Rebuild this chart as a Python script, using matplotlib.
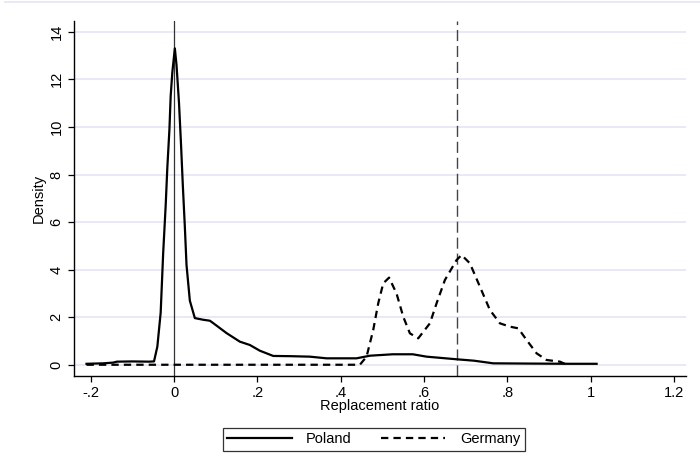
import matplotlib
matplotlib.use("Agg")
import matplotlib.pyplot as plt
from matplotlib.lines import Line2D

plt.rcParams['font.family'] = ['Liberation Sans', 'DejaVu Sans']

# Kernel density of replacement ratios, Poland
poland_x = [-0.21, -0.17, -0.146, -0.137, -0.10, -0.06, -0.048, -0.04, -0.032, -0.026,
            -0.02, -0.016, -0.011, -0.008, -0.004, 0.002, 0.006, 0.012, 0.017, 0.021,
            0.026, 0.030, 0.038, 0.05, 0.07, 0.086, 0.094, 0.11, 0.126, 0.158,
            0.182, 0.206, 0.222, 0.238, 0.28, 0.326, 0.366, 0.438, 0.47, 0.525,
            0.573, 0.606, 0.678, 0.72, 0.766, 0.85, 0.95, 1.014]
poland_y = [0.05, 0.07, 0.10, 0.14, 0.15, 0.14, 0.15, 0.77, 2.2, 4.7,
            6.7, 8.3, 9.9, 11.3, 12.3, 13.3, 12.6, 11.0, 9.2, 7.6,
            5.8, 4.2, 2.7, 1.97, 1.9, 1.86, 1.76, 1.55, 1.34, 0.98,
            0.84, 0.6, 0.49, 0.38, 0.37, 0.35, 0.28, 0.28, 0.39, 0.45,
            0.45, 0.35, 0.24, 0.18, 0.07, 0.06, 0.05, 0.05]

# Kernel density of replacement ratios, Germany
germany_x = [-0.21, 0.0, 0.3, 0.446, 0.462, 0.478, 0.49, 0.502, 0.516, 0.534,
             0.55, 0.566, 0.586, 0.614, 0.63, 0.65, 0.678, 0.69, 0.71, 0.734,
             0.758, 0.782, 0.806, 0.826, 0.846, 0.87, 0.894, 0.926, 0.94]
germany_y = [0.01, 0.01, 0.01, 0.01, 0.35, 1.47, 2.59, 3.43, 3.67, 3.0,
             2.03, 1.33, 1.12, 1.75, 2.59, 3.57, 4.41, 4.62, 4.27, 3.29,
             2.31, 1.75, 1.61, 1.54, 1.05, 0.49, 0.21, 0.14, 0.03]

# reference lines
poland_ref = 0.0
germany_ref = 0.68

x_ticks = [-0.2, 0, 0.2, 0.4, 0.6, 0.8, 1, 1.2]
x_labels = ["-.2", "0", ".2", ".4", ".6", ".8", "1", "1.2"]
y_ticks = [0, 2, 4, 6, 8, 10, 12, 14]

fs = 10.5
dash = (3.3, 2.3)

fig = plt.figure(figsize=(7, 4.67), dpi=100)
ax = fig.add_axes([0.1057, 0.1955, 0.874, 0.7595])

grid_col = "#e6e6f6"
for t in y_ticks:
    ax.axhline(t, color=grid_col, lw=1.3, zorder=0)

ax.axvline(poland_ref, color="#333333", lw=0.9, zorder=1)
ax.axvline(germany_ref, color="#444444", lw=1.0, dashes=(8, 3.5), zorder=1)

ax.plot(poland_x, poland_y, color="black", lw=1.6, zorder=3)
ax.plot(germany_x, germany_y, color="black", lw=1.6, dashes=dash, zorder=3)

ax.set_xlim(-0.24, 1.228)
ax.set_ylim(-0.45, 14.45)
ax.set_xticks(x_ticks)
ax.set_xticklabels(x_labels)
ax.set_yticks(y_ticks)
ax.set_yticklabels([str(t) for t in y_ticks], rotation=90, va="center")
ax.tick_params(direction="out", length=4.5, width=0.9, labelsize=fs, pad=3)

for s in ["top", "right"]:
    ax.spines[s].set_visible(False)
for s in ["left", "bottom"]:
    ax.spines[s].set_linewidth(1.0)

ax.set_xlabel("Replacement ratio", fontsize=fs, labelpad=-1)
ax.set_ylabel("Density", fontsize=fs, labelpad=3)

# thin line along the top of the graph region
fig.add_artist(Line2D([0.007, 1.0], [0.995, 0.995], color=grid_col, lw=1.3))

handles = [Line2D([], [], color="black", lw=1.6),
           Line2D([], [], color="black", lw=1.6, dashes=dash)]
leg = fig.legend(handles, ["Poland", "Germany"], ncol=2, loc="center",
                 bbox_to_anchor=(0.534, 0.059), frameon=True, fancybox=False,
                 edgecolor="black", fontsize=fs, handlelength=4.4,
                 handletextpad=1.0, columnspacing=2.0, borderpad=0.3)
leg.get_frame().set_linewidth(0.9)

fig.savefig("out.png", dpi=100)
